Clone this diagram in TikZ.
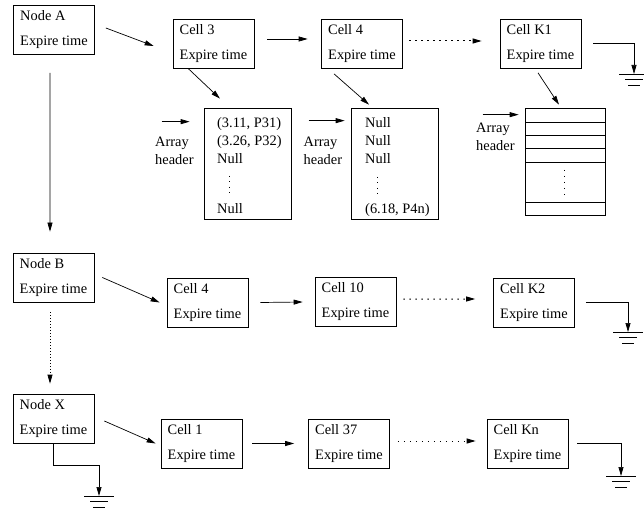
\documentclass[tikz,border=0pt]{standalone}
\usepackage{fontspec}
\setmainfont{Liberation Serif}
\usetikzlibrary{arrows.meta}

\tikzset{
  cell/.style={draw, line width=0.7pt, minimum width=81pt, minimum height=49pt,
    inner sep=0pt, align=left, font=\fontsize{14.4}{25}\selectfont},
  slots/.style={draw, line width=0.7pt, minimum width=87pt, minimum height=111pt, inner sep=0pt},
  entries/.style={anchor=north west, inner sep=0pt, align=left, font=\fontsize{14.4}{18}\selectfont},
  hdr/.style={anchor=west, inner sep=0pt, align=left, font=\fontsize{14.4}{18}\selectfont},
  link/.style={-{Triangle[length=9pt,width=5pt]}, line width=0.7pt},
  dotlink/.style={link, line width=1pt, dash pattern=on 1.4pt off 4.6pt},
  ellip/.style={line width=0.9pt, dash pattern=on 1pt off 4.5pt},
  earth/.pic={
    \draw[line width=0.7pt] (-1.5,0) -- (1.5,0) (-0.9,0.55) -- (0.9,0.55) (-0.6,1.1) -- (0.6,1.1);
  }
}

\begin{document}
\begin{tikzpicture}[x=10pt, y=-10pt]
    \useasboundingbox (0,0) rectangle (64.4,51);

    % first list: node A and its cells
    \node[cell] (na) at (5.4,3.0) {Node A\\Expire time};
    \node[cell] (c3) at (21.35,4.35) {Cell 3\\Expire time};
    \node[cell] (c4) at (36.2,4.35) {Cell 4\\Expire time};
    \node[cell] (k1) at (54.05,4.35) {Cell K1\\Expire time};

    % arrays hanging below the cells
    \node[slots] (a3) at (24.75,16.35) {};
    \node[entries] (e3) at (21.7,11.7) {(3.11, P31)\\(3.26, P32)\\Null\\[32pt]Null};
    \draw[ellip] (22.9,17.6) -- (22.9,19.4);
    \node[slots] (a4) at (39.45,16.35) {};
    \node[entries] (e4) at (36.5,11.7) {Null\\Null\\Null\\[32pt](6.18, P4n)};
    \draw[ellip] (37.7,17.7) -- (37.7,19.4);
    \node[slots, minimum width=80pt, minimum height=107pt] (ak) at (56.5,16.15) {};
    \foreach \r in {12.2,13.5,14.8,16.2,20.2}
        \draw[line width=0.7pt] (52.5,\r) -- (60.5,\r);
    \draw[ellip, dash pattern=on 1pt off 5pt] (56.4,17.0) -- (56.4,19.6);

    \node[hdr] (h3) at (15.5,15.1) {Array\\header};
    \node[hdr] (h4) at (30.35,15.1) {Array\\header};
    \node[hdr] (hk) at (47.6,13.7) {Array\\header};

    % second and third lists
    \node[cell] (nb) at (5.35,27.75) {Node B\\Expire time};
    \node[cell] (b4) at (20.75,30.25) {Cell 4\\Expire time};
    \node[cell] (c10) at (35.55,30.2) {Cell 10\\Expire time};
    \node[cell] (k2) at (53.4,30.25) {Cell K2\\Expire time};

    \node[cell] (nx) at (5.35,41.85) {Node X\\Expire time};
    \node[cell] (x1) at (20.15,44.35) {Cell 1\\Expire time};
    \node[cell] (c37) at (34.9,44.35) {Cell 37\\Expire time};
    \node[cell] (kn) at (52.75,44.35) {Cell Kn\\Expire time};

    % ground ends
    \coordinate (g1) at (63.4,7.4);
    \coordinate (g2) at (62.8,33.2);
    \coordinate (gn) at (62.1,47.6);
    \coordinate (gx) at (9.9,49.6);
    \foreach \g in {g1,g2,gn,gx}
        \pic at (\g) {earth};

    % links of the first list
    \draw[link] ([xshift=11pt,yshift=2pt]na.east) -- ([xshift=-19pt,yshift=-2.5pt]c3.west);
    \draw[link] ([xshift=13pt,yshift=4.5pt]c3.east) -- ([xshift=-13.5pt,yshift=4.5pt]c4.west);
    \draw[dotlink] ([xshift=6.5pt,yshift=2.5pt]c4.east) -- ([xshift=-18pt,yshift=2.5pt]k1.west);
    \draw[link] ([xshift=12pt]k1.east) -| (g1);

    \draw[link] ([xshift=-25.5pt]c3.south) -- ([xshift=-27.5pt,yshift=9pt]a3.north);
    \draw[link] ([xshift=-28pt,yshift=-5.5pt]c4.south) -- ([xshift=-25.5pt,yshift=3pt]a4.north);
    \draw[link] ([xshift=-2.5pt,yshift=-4.5pt]k1.south) -- ([xshift=-6pt,yshift=3pt]ak.north);

    \draw[link] ([yshift=-14pt,xshift=-42pt]a3.north west) -- ([yshift=-14pt,xshift=-14pt]a3.north west);
    \draw[link] ([yshift=-13pt,xshift=-42pt]a4.north west) -- ([yshift=-13pt,xshift=-6pt]a4.north west);
    \draw[link] ([yshift=-7pt,xshift=-42pt]ak.north west) -- ([yshift=-7pt,xshift=-6pt]ak.north west);

    % down the node list
    \draw[link] ([xshift=-4pt,yshift=-18pt]na.south) -- ([xshift=-3.5pt,yshift=21pt]nb.north);
    \draw[link, dash pattern=on 1pt off 2pt] ([xshift=-3.5pt,yshift=-10pt]nb.south) -- ([xshift=-3.5pt,yshift=10pt]nx.north);

    % links of the second list
    \draw[link] ([xshift=8pt]nb.east) -- ([xshift=-7pt]b4.west);
    \draw[link] ([xshift=12pt]b4.east) -- ([xshift=-12pt]c10.west);
    \draw[dotlink] ([xshift=7pt,yshift=3pt]c10.east) -- ([xshift=-18pt,yshift=3.5pt]k2.west);
    \draw[link] ([xshift=11pt]k2.east) -| (g2);

    % links of the third list
    \draw[link] ([xshift=10pt,yshift=-2.5pt]nx.east) -- ([xshift=-5pt]x1.west);
    \draw[link] ([xshift=10pt]x1.east) -- ([xshift=-14pt]c37.west);
    \draw[dotlink] ([xshift=8pt,yshift=2.5pt]c37.east) -- ([xshift=-11pt,yshift=2.5pt]kn.west);
    \draw[link] ([xshift=9pt]kn.east) -| (gn);
    \draw[link] (nx.south) -- ++(0,2.2) -| (gx);
\end{tikzpicture}
\end{document}
